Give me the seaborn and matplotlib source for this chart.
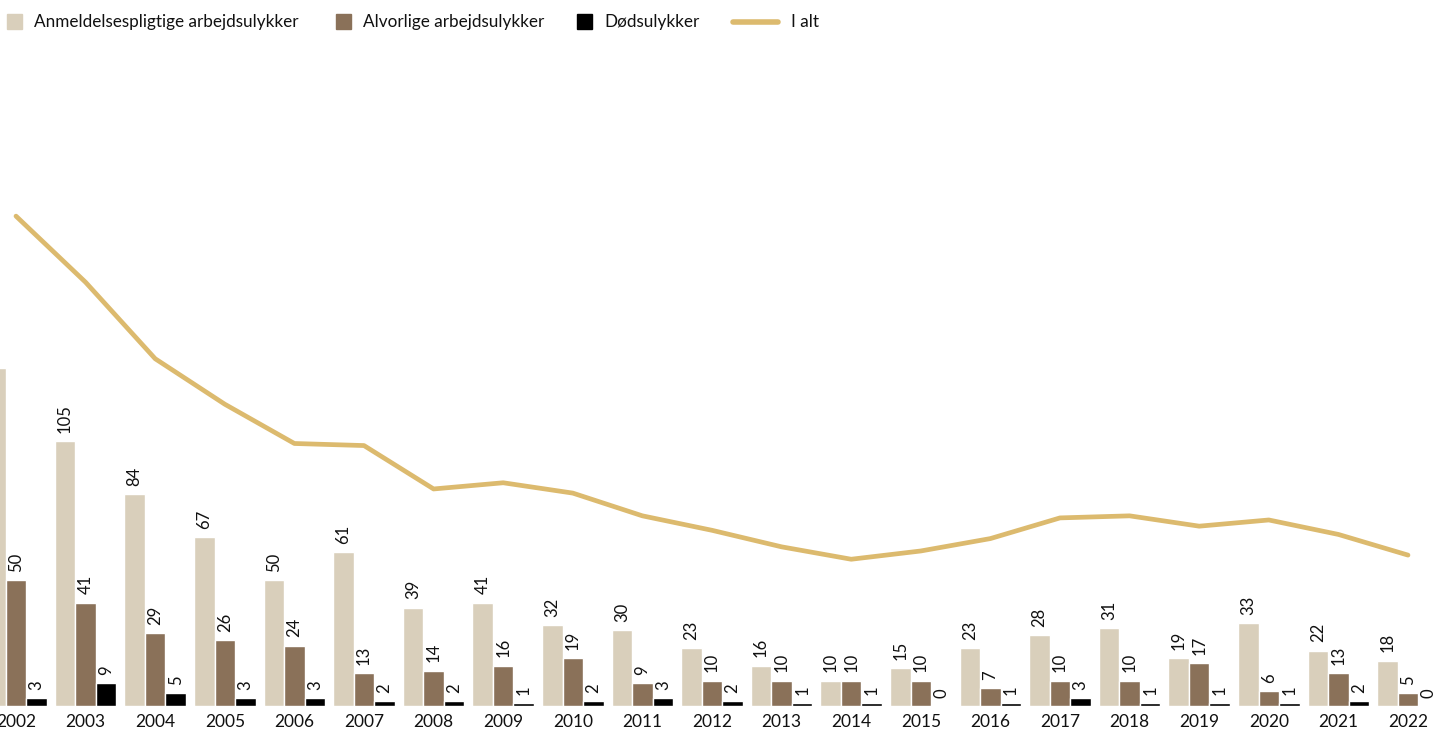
import numpy as np
import pandas as pd
import matplotlib
matplotlib.use("Agg")
import matplotlib.pyplot as plt
from matplotlib.patches import Rectangle
from matplotlib.lines import Line2D
import seaborn as sns

years = [str(y) for y in range(2002, 2023)]
anmeld = [134, 105, 84, 67, 50, 61, 39, 41, 32, 30, 23, 16, 10, 15, 23, 28, 31, 19, 33, 22, 18]
alvorlige = [50, 41, 29, 26, 24, 13, 14, 16, 19, 9, 10, 10, 10, 10, 7, 10, 10, 17, 6, 13, 5]
doed = [3, 9, 5, 3, 3, 2, 2, 1, 2, 3, 2, 1, 1, 0, 1, 3, 1, 1, 1, 2, 0]
i_alt = [187, 155, 118, 96, 77, 76, 55, 58, 53, 42, 35, 27, 21, 25, 31, 41, 42, 37, 40, 33, 23]

series = ["Anmeldelsespligtige arbejdsulykker", "Alvorlige arbejdsulykker", "Dødsulykker"]
colors = ["#d9cfbb", "#8a7159", "#000000"]
line_color = "#dcba6e"

df = pd.DataFrame({"år": years * 3,
                   "type": [series[0]] * 21 + [series[1]] * 21 + [series[2]] * 21,
                   "antal": anmeld + alvorlige + doed})

sns.set_style("white")
plt.rcParams["font.family"] = ["Lato", "DejaVu Sans"]

W, H = 1446, 736
fig = plt.figure(figsize=(W / 100, H / 100), dpi=100)
ax = fig.add_axes([0, 30 / H, 1, 706 / H])

sns.barplot(data=df, x="år", y="antal", hue="type", palette=colors,
            width=0.885, saturation=1, ax=ax, legend=False)
for c in ax.containers:
    ax.bar_label(c, rotation=90, padding=6, fontsize=12, color="#111111")

ax.set_ylim(0, 706 / 2.52)
ax.set_xlim(-16 / 69.6, (W - 16) / 69.6)
ax.set_xlabel("")
ax.set_ylabel("")
ax.set_yticks([])
ax.tick_params(axis="x", length=0, labelsize=12.5, pad=6, colors="#111111")
sns.despine(ax=ax, left=True, bottom=True)

ax2 = ax.twinx()
sns.lineplot(x=np.arange(21), y=i_alt, color=line_color, linewidth=3.4,
             solid_capstyle="round", ax=ax2)
ax2.set_ylim(-50, -50 + 706 / 2.067)
ax2.set_yticks([])
ax2.set_xlim(ax.get_xlim())
for s in ax2.spines.values():
    s.set_visible(False)

# legend drawn at pixel positions
def px(x, y):
    return x / W, 1 - y / H

for x0, col, xt, lab in zip([7, 336, 577], colors, [34, 363, 604], series):
    fig.patches.append(Rectangle(px(x0, 29), 15 / W, 15 / H, color=col,
                                 transform=fig.transFigure))
    fig.text(*px(xt, 22), lab, va="center", ha="left", fontsize=12.3, color="#111111")
fig.lines.append(Line2D([733 / W, 778 / W], [1 - 22 / H] * 2, color=line_color,
                        linewidth=4, transform=fig.transFigure))
fig.text(*px(791, 22), "I alt", va="center", ha="left", fontsize=12.3, color="#111111")

fig.savefig("out.png", dpi=100)
